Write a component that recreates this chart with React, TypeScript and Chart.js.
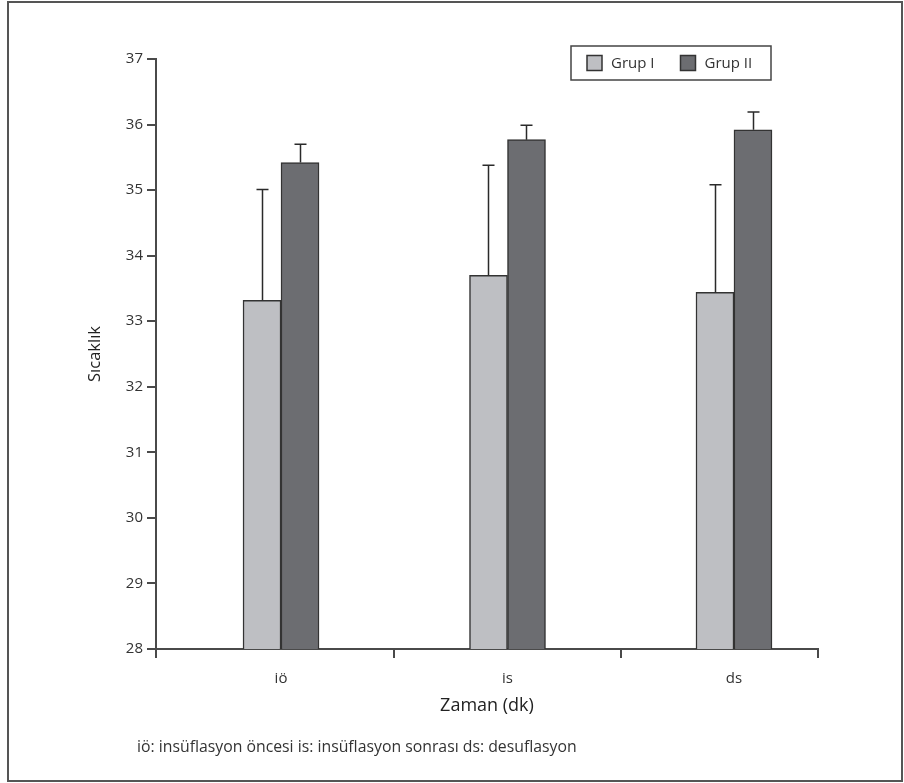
import React, { useEffect, useRef } from 'react';
import { Chart, registerables } from 'chart.js';

Chart.register(...registerables);

const categories = ['iö', 'is', 'ds'];
const seriesNames = ['Grup I', 'Grup II'];
const grupI = [33.32, 33.7, 33.44];
const grupII = [35.42, 35.77, 35.92];
const grupIErr = [1.69, 1.68, 1.64];
const grupIIErr = [0.28, 0.22, 0.27];
const categoryBoundaries = [0.5, 1.5];
const yMin = 28;
const yMax = 37;
const xTitle = 'Zaman (dk)';
const yTitle = 'Sıcaklık';
const footnote = 'iö: insüflasyon öncesi is: insüflasyon sonrası ds: desuflasyon';

const FONT = '"Open Sans", "Noto Sans", sans-serif';
const colors = ['#bebfc3', '#6c6d71'];
const errs = [grupIErr, grupIIErr];

const X_MIN = -0.552;
const X_MAX = 2.371;

const decorPlugin = {
  id: 'decor',
  beforeDraw(chart: any) {
    const ctx = chart.ctx;
    ctx.save();
    ctx.fillStyle = '#ffffff';
    ctx.fillRect(0, 0, chart.width, chart.height);
    ctx.strokeStyle = '#555555';
    ctx.lineWidth = 2;
    ctx.strokeRect(8, 2, 894, 779);
    ctx.restore();
  },
  afterDatasetsDraw(chart: any) {
    const ctx = chart.ctx;
    const yScale = chart.scales.y;
    ctx.save();
    ctx.strokeStyle = '#2a2a2a';
    ctx.lineWidth = 1.5;
    chart.data.datasets.forEach((ds: any, di: number) => {
      const meta = chart.getDatasetMeta(di);
      meta.data.forEach((el: any, i: number) => {
        const v = ds.data[i].y;
        const top = yScale.getPixelForValue(v + errs[di][i]);
        const x = Math.round(el.x) + 0.5;
        ctx.beginPath();
        ctx.moveTo(x, el.y);
        ctx.lineTo(x, top);
        ctx.moveTo(x - 6, top);
        ctx.lineTo(x + 6, top);
        ctx.stroke();
      });
    });
    ctx.restore();
  },
  afterDraw(chart: any) {
    const ctx = chart.ctx;
    const area = chart.chartArea;
    ctx.save();
    // legend
    const bw = 200, bh = 34;
    const bx = area.right - 47 - bw;
    const by = area.top - 13;
    ctx.strokeStyle = '#444444';
    ctx.lineWidth = 1.5;
    ctx.strokeRect(bx, by, bw, bh);
    ctx.font = `15px ${FONT}`;
    ctx.textBaseline = 'middle';
    let x = bx + 16;
    const cy = by + bh / 2;
    chart.data.datasets.forEach((ds: any) => {
      ctx.fillStyle = ds.backgroundColor;
      ctx.fillRect(x, cy - 7.5, 15, 15);
      ctx.strokeStyle = '#333333';
      ctx.lineWidth = 1.5;
      ctx.strokeRect(x, cy - 7.5, 15, 15);
      x += 24;
      ctx.fillStyle = '#333333';
      ctx.fillText(ds.label, x, cy + 1);
      x += ctx.measureText(ds.label).width + 26;
    });
    // footnote
    ctx.font = `15.8px ${FONT}`;
    ctx.fillStyle = '#333333';
    ctx.textBaseline = 'middle';
    ctx.fillText(footnote, 137, 747);
    ctx.restore();
  },
};

export default function App() {
  const ref = useRef<HTMLCanvasElement | null>(null);
  useEffect(() => {
    document.body.style.margin = '0';
    if (!ref.current) return;
    const chart = new Chart(ref.current, {
      type: 'bar',
      data: {
        datasets: [grupI, grupII].map((vals, di) => ({
          label: seriesNames[di],
          data: vals.map((v, i) => ({ x: i, y: v })),
          backgroundColor: colors[di],
          borderColor: '#333333',
          borderWidth: 1.5,
          borderSkipped: 'start',
          barThickness: 38,
        })),
      },
      options: {
        animation: false,
        responsive: false,
        layout: { padding: { left: 0, right: 86, top: 59, bottom: 0 } },
        plugins: { legend: { display: false }, tooltip: { enabled: false } },
        scales: {
          x: {
            type: 'linear',
            min: X_MIN,
            max: X_MAX,
            offset: false,
            afterBuildTicks: (scale: any) => {
              const vals = [X_MIN, ...categories.map((_, i) => i), ...categoryBoundaries, X_MAX].sort((a, b) => a - b);
              scale.ticks = vals.map((v) => ({ value: v }));
            },
            afterFit: (scale: any) => {
              scale.height = 134;
            },
            border: { display: true, color: '#4a4a4a', width: 2 },
            grid: {
              offset: false,
              drawOnChartArea: false,
              drawTicks: true,
              tickLength: 9,
              lineWidth: 2,
              color: (c: any) => (c.tick && Number.isInteger(c.tick.value) ? 'rgba(0,0,0,0)' : '#4a4a4a'),
            },
            ticks: {
              autoSkip: false,
              maxRotation: 0,
              padding: 12,
              color: '#333333',
              font: { family: FONT, size: 15 },
              callback: (v: any) => (Number.isInteger(v) ? categories[v] : ''),
            },
            title: {
              display: true,
              text: xTitle,
              color: '#222222',
              font: { family: FONT, size: 18, lineHeight: 1.2 },
              padding: { top: 0, bottom: 66 },
            },
          },
          y: {
            min: yMin,
            max: yMax,
            afterFit: (scale: any) => {
              scale.width = 156;
            },
            border: { display: true, color: '#4a4a4a', width: 2 },
            grid: {
              drawOnChartArea: false,
              drawTicks: true,
              tickLength: 9,
              lineWidth: 2,
              color: '#4a4a4a',
            },
            ticks: {
              stepSize: 1,
              padding: 4,
              color: '#333333',
              font: { family: FONT, size: 15 },
            },
            title: {
              display: true,
              text: yTitle,
              color: '#222222',
              font: { family: FONT, size: 16.5, lineHeight: 1.2 },
              padding: { top: 85, bottom: 0 },
            },
          },
        },
      },
      plugins: [decorPlugin],
    } as any);
    return () => chart.destroy();
  }, []);
  return <canvas ref={ref} width={904} height={783} style={{ display: 'block', width: 904, height: 783 }} />;
}
